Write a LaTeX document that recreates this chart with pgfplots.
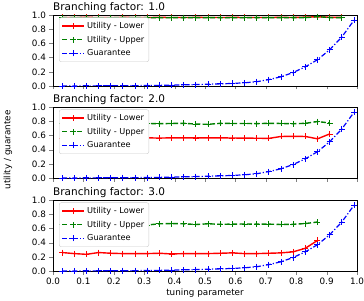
\documentclass[border=0pt]{standalone}
\usepackage{fontspec}
\setmainfont{DejaVu Sans}
\usepackage{pgfplots}
\pgfplotsset{compat=1.18}
\definecolor{mgreen}{rgb}{0,0.5,0}

\pgfplotsset{
  myax/.style={
    scale only axis, width=304pt, height=71pt,
    xmin=0, xmax=1, ymin=0, ymax=1,
    xtick={0,0.1,0.2,0.3,0.4,0.5,0.6,0.7,0.8,0.9,1.0},
    ytick={0,0.2,0.4,0.6,0.8,1.0},
    tick align=outside, tick pos=left,
    major tick length=3.5pt,
    /pgf/number format/assume math mode=true,
    /pgf/number format/fixed, /pgf/number format/fixed zerofill, /pgf/number format/precision=1,
    tick label style={font=\fontsize{8.8}{10}\selectfont},
    title style={at={(0,1)}, anchor=south west, font=\fontsize{10.5}{12}\selectfont, inner sep=0pt, yshift=-4pt},
    legend style={at={(0.02,0.965)}, anchor=north west, font=\fontsize{8.2}{9.5}\selectfont, draw=black!20, rounded corners=2pt, fill=white!100, inner sep=2.5pt, row sep=2pt},
    legend cell align=left,
  },
  lowst/.style={color=red, line width=1.4pt, mark=+, mark size=3pt, mark options={solid, line width=0.9pt}},
  upst/.style={color=mgreen, line width=1.4pt, dash pattern=on 5pt off 2.4pt, mark=+, mark size=3pt, mark options={solid, line width=0.9pt}},
  guast/.style={color=blue, line width=1.2pt, dash pattern=on 5pt off 2pt on 1.2pt off 2pt, mark=+, mark size=3pt, mark options={solid, line width=0.9pt}},
  lowleg/.style={legend image code/.code={\draw[red, line width=1.4pt] (0pt,0pt) -- (22pt,0pt); \draw[red, line width=0.9pt] (8pt,0pt) -- (14pt,0pt) (11pt,-3pt) -- (11pt,3pt);}},
  upleg/.style={legend image code/.code={\draw[mgreen, line width=1.4pt, dash pattern=on 5pt off 2.4pt] (0pt,0pt) -- (22pt,0pt); \draw[mgreen, line width=0.9pt] (8pt,0pt) -- (14pt,0pt) (11pt,-3pt) -- (11pt,3pt);}},
  gualeg/.style={legend image code/.code={\draw[blue, line width=1.2pt, dash pattern=on 5pt off 2pt on 1.2pt off 2pt] (0pt,0pt) -- (22pt,0pt); \draw[blue, line width=0.9pt] (8pt,0pt) -- (14pt,0pt) (11pt,-3pt) -- (11pt,3pt);}},
}

\pgfplotstableread{
x y
0.03 0.000
0.07 0.000
0.11 0.001
0.15 0.002
0.19 0.003
0.23 0.004
0.27 0.005
0.31 0.007
0.35 0.009
0.39 0.012
0.43 0.016
0.47 0.020
0.51 0.025
0.55 0.030
0.59 0.036
0.63 0.045
0.67 0.060
0.71 0.090
0.75 0.130
0.79 0.190
0.83 0.270
0.87 0.370
0.91 0.510
0.95 0.690
0.99 0.925
}\guar

\pgfplotstableread{
x y
0.03 0.965
0.07 0.965
0.11 0.966
0.15 0.965
0.19 0.964
0.23 0.966
0.27 0.965
0.31 0.965
0.35 0.966
0.39 0.965
0.43 0.964
0.47 0.966
0.51 0.965
0.55 0.965
0.59 0.966
0.63 0.965
0.67 0.964
0.71 0.965
0.75 0.966
0.79 0.965
0.83 0.970
0.87 0.975
0.91 0.968
0.95 0.966
}\lowA

\pgfplotstableread{
x y
0.03 0.962
0.07 0.962
0.11 0.963
0.15 0.961
0.19 0.962
0.23 0.962
0.27 0.963
0.31 0.962
0.35 0.961
0.39 0.962
0.43 0.962
0.47 0.963
0.51 0.962
0.55 0.962
0.59 0.961
0.63 0.962
0.67 0.962
0.71 0.962
0.75 0.962
0.79 0.963
0.83 0.962
0.87 0.978
0.91 0.963
0.95 0.962
}\upA

\pgfplotstableread{
x y
0.03 0.560
0.07 0.562
0.11 0.565
0.15 0.566
0.19 0.568
0.23 0.566
0.27 0.565
0.31 0.566
0.35 0.562
0.39 0.566
0.43 0.565
0.47 0.564
0.51 0.565
0.55 0.566
0.59 0.563
0.63 0.562
0.67 0.560
0.71 0.558
0.75 0.585
0.79 0.586
0.83 0.585
0.87 0.552
0.91 0.620
}\lowB

\pgfplotstableread{
x y
0.03 0.770
0.07 0.768
0.11 0.770
0.15 0.762
0.19 0.768
0.23 0.770
0.27 0.762
0.31 0.768
0.35 0.765
0.39 0.768
0.43 0.770
0.47 0.760
0.51 0.756
0.55 0.770
0.59 0.768
0.63 0.768
0.67 0.766
0.71 0.770
0.75 0.768
0.79 0.764
0.83 0.770
0.87 0.795
0.91 0.775
}\upB

\pgfplotstableread{
x y
0.03 0.260
0.07 0.245
0.11 0.235
0.15 0.260
0.19 0.250
0.23 0.245
0.27 0.245
0.31 0.245
0.35 0.250
0.39 0.240
0.43 0.245
0.47 0.245
0.51 0.245
0.55 0.250
0.59 0.255
0.63 0.245
0.67 0.245
0.71 0.250
0.75 0.255
0.79 0.270
0.83 0.320
0.87 0.430
}\lowC

\pgfplotstableread{
x y
0.03 0.650
0.07 0.655
0.11 0.660
0.15 0.665
0.19 0.655
0.23 0.650
0.27 0.660
0.31 0.648
0.35 0.665
0.39 0.668
0.43 0.665
0.47 0.655
0.51 0.665
0.55 0.658
0.59 0.660
0.63 0.662
0.67 0.660
0.71 0.660
0.75 0.655
0.79 0.658
0.83 0.668
0.87 0.690
}\upC

\begin{document}
\begin{tikzpicture}
\begin{axis}[myax, at={(0,185pt)}, anchor=south west, xticklabels={}, title={Branching factor: 1.0}]
\addplot[lowst, forget plot] table {\lowA};
\addplot[upst, forget plot] table {\upA};
\addplot[guast, forget plot] table {\guar};
\addlegendimage{lowleg}\addlegendentry{Utility - Lower}
\addlegendimage{upleg}\addlegendentry{Utility - Upper}
\addlegendimage{gualeg}\addlegendentry{Guarantee}
\end{axis}
\begin{axis}[myax, at={(0,93pt)}, anchor=south west, xticklabels={}, title={Branching factor: 2.0}]
\addplot[lowst, forget plot] table {\lowB};
\addplot[upst, forget plot] table {\upB};
\addplot[guast, forget plot] table {\guar};
\addlegendimage{lowleg}\addlegendentry{Utility - Lower}
\addlegendimage{upleg}\addlegendentry{Utility - Upper}
\addlegendimage{gualeg}\addlegendentry{Guarantee}
\end{axis}
\begin{axis}[myax, at={(0,0)}, anchor=south west, title={Branching factor: 3.0}, xlabel={tuning parameter}, xlabel style={font=\fontsize{8.8}{10}\selectfont, yshift=3pt}]
\addplot[lowst, forget plot] table {\lowC};
\addplot[upst, forget plot] table {\upC};
\addplot[guast, forget plot] table {\guar};
\addlegendimage{lowleg}\addlegendentry{Utility - Lower}
\addlegendimage{upleg}\addlegendentry{Utility - Upper}
\addlegendimage{gualeg}\addlegendentry{Guarantee}
\end{axis}
\node[rotate=90, font=\fontsize{8.8}{10}\selectfont] at (-45pt,121pt) {utility / guarantee};
\pgfresetboundingbox
\useasboundingbox (-53pt,-29pt) rectangle (311pt,271pt);
\end{tikzpicture}
\end{document}
